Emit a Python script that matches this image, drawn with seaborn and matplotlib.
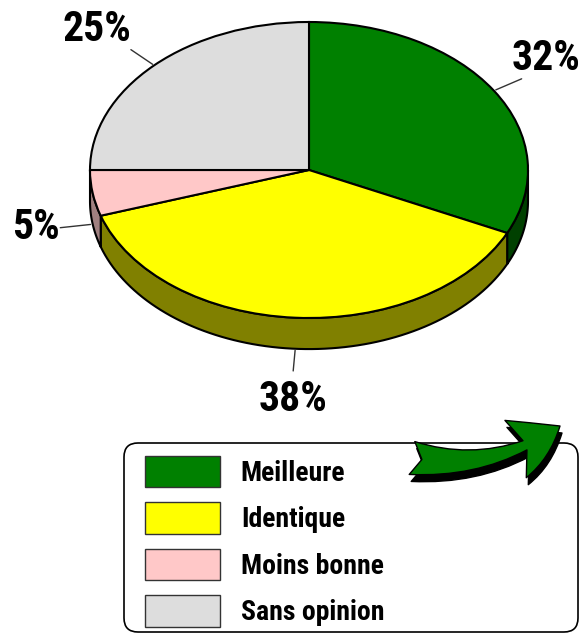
"""
3D-style pie chart: opinion split with legend box and decorative arrow
"""
import numpy as np
import matplotlib
matplotlib.use("Agg")
import matplotlib.pyplot as plt
import seaborn as sns
from matplotlib.patches import Patch, FancyBboxPatch, FancyArrowPatch

# data
categories = ["Meilleure", "Identique", "Moins bonne", "Sans opinion"]
shares = [32, 38, 5, 25]
pct_labels = ["32%", "38%", "5%", "25%"]
top_colors = ["#008000", "#ffff00", "#ffc8c8", "#dddddd"]
side_colors = ["#004000", "#808000", "#a08080", "#808080"]

sns.set_theme(style="white")
plt.rcParams["font.family"] = ["Roboto Condensed", "Liberation Sans", "DejaVu Sans"]
plt.rcParams["text.color"] = "black"

W, H = 586, 634
fig = plt.figure(figsize=(W / 100, H / 100), dpi=100)

# pie axes: one data unit = pie radius, squashed vertically for the tilt
ax = fig.add_axes([0, 0, 1, 1])
cx_px, cy_px, rx_px, ry_px = 309, 170, 219, 148
depth = 0.21

fracs = np.array(shares) / sum(shares)
bounds = 90 - 360 * np.concatenate([[0], np.cumsum(fracs)])

# side walls (only the front half is visible)
for i in range(len(shares)):
    lo = max(bounds[i + 1], -180)
    hi = min(bounds[i], 0)
    if hi > lo:
        th = np.radians(np.linspace(lo, hi, 80))
        xs = np.concatenate([np.cos(th), np.cos(th[::-1])])
        ys = np.concatenate([np.sin(th), np.sin(th[::-1]) - depth])
        ax.fill(xs, ys, facecolor=side_colors[i], edgecolor="black", linewidth=1.5, zorder=1)

ax.pie(shares, colors=top_colors, startangle=90, counterclock=False, radius=1,
       wedgeprops=dict(edgecolor="black", linewidth=1.5, zorder=2))
ax.set_aspect("auto")
ax.set_xlim(-cx_px / rx_px, (W - cx_px) / rx_px)
ax.set_ylim(-(H - cy_px) / ry_px, cy_px / ry_px)
ax.axis("off")

# percentage labels with leader lines
for i, lab in enumerate(pct_labels):
    mid = np.radians((bounds[i] + bounds[i + 1]) / 2)
    c, s = np.cos(mid), np.sin(mid)
    drop = depth if s < 0 else 0
    x0, y0 = 1.01 * c, 1.01 * s - drop
    x1, y1 = 1.15 * c, 1.15 * s - drop
    ax.plot([x0, x1], [y0, y1], color="#333333", linewidth=1, zorder=3)
    ha = "left" if c > 0.3 else ("right" if c < -0.3 else "center")
    va = "bottom" if s > 0.3 else ("top" if s < -0.3 else "center")
    dx = -10 if ha == "left" else 0
    dy = -8 if va == "top" else 0
    ax.annotate(lab, (x1, y1), xytext=(dx, dy), textcoords="offset pixels",
                ha=ha, va=va, fontsize=30, fontweight="bold", color="black")

# overlay axes in pixel units for legend box and arrow
ax2 = fig.add_axes([0, 0, 1, 1])
ax2.set_xlim(0, W)
ax2.set_ylim(H, 0)
ax2.axis("off")

box = FancyBboxPatch((124, 443), 578 - 124, 632 - 443,
                     boxstyle="round,pad=0,rounding_size=14",
                     facecolor="white", edgecolor="black", linewidth=1.2)
ax2.add_patch(box)

handles = [Patch(facecolor=c, edgecolor="#333333", label=l) for c, l in zip(top_colors, categories)]
ax2.legend(handles=handles, loc="upper left", bbox_to_anchor=(145, 456),
           bbox_transform=ax2.transData, frameon=False, labelcolor="black",
           prop=dict(weight="bold", size=20), handlelength=2.7, handleheight=1.35,
           handletextpad=0.75, labelspacing=0.55, borderpad=0, borderaxespad=0)

style = "fancy,head_length=0.9,head_width=1.1,tail_width=0.6"
shadow = FancyArrowPatch((414, 465), (562, 433), arrowstyle=style,
                         connectionstyle="arc3,rad=0.2", mutation_scale=40,
                         shrinkA=0, shrinkB=0, facecolor="black", edgecolor="black", zorder=6)
arrow = FancyArrowPatch((412, 458), (560, 426), arrowstyle=style,
                        connectionstyle="arc3,rad=0.2", mutation_scale=40,
                        shrinkA=0, shrinkB=0, facecolor="#008000", edgecolor="black",
                        linewidth=1, zorder=7)
ax2.add_patch(shadow)
ax2.add_patch(arrow)

fig.savefig("out.png", dpi=100)
